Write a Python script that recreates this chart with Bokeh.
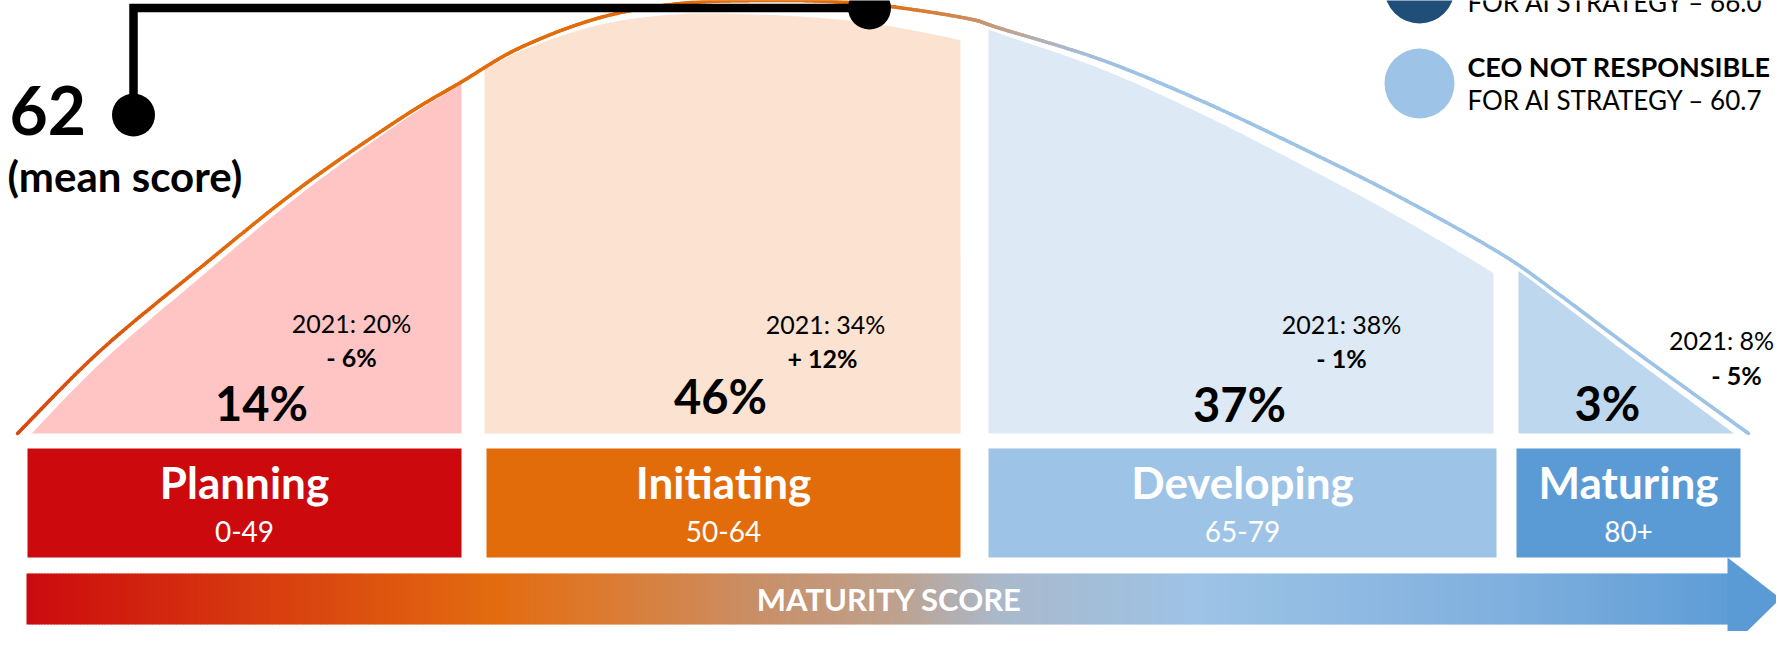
import numpy as np
from bokeh.plotting import figure
from bokeh.models import Range1d
from bokeh.core.properties import value
from bokeh.embed import file_html
from bokeh.resources import INLINE

# ---------------- DATA ----------------
categories = ["Planning", "Initiating", "Developing", "Maturing"]
score_ranges = ["0-49", "50-64", "65-79", "80+"]
share_2023 = [14, 46, 37, 3]
share_2021 = [20, 34, 38, 8]
mean_score = 62
legend_labels = ["CEO RESPONSIBLE", "CEO NOT RESPONSIBLE"]
legend_scores = [66.0, 60.7]
axis_title = "MATURITY SCORE"
# distribution curve: position along the score bar, height above the base line
curve_x = [17, 100, 200, 300, 400, 460, 520, 600, 680, 760, 830, 890, 967, 1000,
           1100, 1200, 1300, 1400, 1500, 1560, 1620, 1683, 1748]
curve_h = [0, 83, 166, 246, 315, 351, 386, 416, 430, 433, 432, 427, 415, 405,
           374, 333, 286, 236, 180, 138, 93, 47, 0]

# ---------------- LAYOUT / STYLE ----------------
BASE = 433
band_x0 = [17, 484, 988, 1518]
band_x1 = [461, 960, 1493, 1760]
band_gap = [(15, 2), (2, 23), (5, 24), (6, 11)]
fill_colors = ["#FFC5C5", "#FBE2D1", "#DDE9F5", "#BDD7EE"]
box_x0 = [27, 486, 988, 1516]
box_x1 = [461, 960, 1496, 1740]
box_top, box_bot = 448, 557
box_colors = ["#CC0A0E", "#E36C0A", "#9DC3E6", "#5B9BD5"]
pct_cx = [261, 720, 1239, 1607]
pct_base = [422, 415, 423, 422]
hist_cx = [351, 825, 1341, 1721]
hist_base = [333, 334, 334, 350]
chg_base = [367, 368, 368, 385]
chg_cx = [351, 825, 1341, 1736]

FONT = value("Lato")
OFF = 0.42  # baseline correction (fraction of font size)


def by(base, fs):
    return base - OFF * fs


p = figure(width=1776, height=631, x_range=Range1d(0, 1776), y_range=Range1d(631, 0),
           output_backend="svg", toolbar_location=None, min_border=0)
p.axis.visible = False
p.grid.visible = False
p.outline_line_color = None
p.background_fill_color = "white"


def hex2rgb(h):
    h = h.lstrip("#")
    return [int(h[i:i + 2], 16) for i in (0, 2, 4)]


def gradient(stops, xs):
    pos = [s[0] for s in stops]
    rgb = np.array([hex2rgb(s[1]) for s in stops], dtype=float)
    out = []
    for x in xs:
        c = [int(round(np.interp(x, pos, rgb[:, k]))) for k in range(3)]
        out.append("#%02x%02x%02x" % tuple(c))
    return out


def catmull(px, py, n=30):
    P = np.column_stack([px, py]).astype(float)
    P = np.vstack([P[0], P, P[-1]])
    xs, ys = [], []
    for i in range(1, len(P) - 2):
        p0, p1, p2, p3 = P[i - 1], P[i], P[i + 1], P[i + 2]
        t = np.linspace(0, 1, n, endpoint=False)[:, None]
        pt = 0.5 * ((2 * p1) + (-p0 + p2) * t + (2 * p0 - 5 * p1 + 4 * p2 - p3) * t ** 2
                    + (-p0 + 3 * p1 - 3 * p2 + p3) * t ** 3)
        xs.extend(pt[:, 0]); ys.extend(pt[:, 1])
    xs.append(P[-1, 0]); ys.append(P[-1, 1])
    return np.array(xs), np.array(ys)


curve_y = [BASE - h for h in curve_h]
sx, sy = catmull(curve_x, curve_y)

# ---------- band fills under the curve ----------
for i in range(4):
    xs = np.linspace(band_x0[i], band_x1[i], 150)
    g = np.linspace(band_gap[i][0], band_gap[i][1], 150)
    ys = np.minimum(np.interp(xs, sx, sy) + g, BASE)
    px = list(xs) + [band_x1[i], band_x0[i]]
    py = list(ys) + [BASE, BASE]
    p.patch(px, py, fill_color=fill_colors[i], line_color=None)

# ---------- curve line with gradient ----------
curve_stops = [(17, "#D9480F"), (250, "#E36C0A"), (870, "#E36C0A"), (960, "#D08850"),
               (1020, "#B9A9A0"), (1080, "#A6BCD8"), (1140, "#9DC3E6"), (1760, "#9DC3E6")]
mid = (sx[:-1] + sx[1:]) / 2
p.segment(x0=sx[:-1], y0=sy[:-1], x1=sx[1:], y1=sy[1:], line_color=gradient(curve_stops, mid),
          line_width=3.5, line_cap="round")

# ---------- category boxes ----------
p.quad(left=box_x0, right=box_x1, top=[box_top] * 4, bottom=[box_bot] * 4,
       fill_color=box_colors, line_color=None)
box_cx = [(a + b) / 2 for a, b in zip(box_x0, box_x1)]
p.text(x=box_cx, y=[by(500, 44)] * 4, text=categories, text_font=FONT, text_font_style="bold",
       text_font_size="44px", text_color="white", text_align="center", text_baseline="alphabetic")
p.text(x=box_cx, y=[by(543, 28)] * 4, text=score_ranges, text_font=FONT,
       text_font_size="28px", text_color="white", text_align="center", text_baseline="alphabetic")

# ---------- maturity score arrow ----------
bar_l, bar_r, bar_t, bar_b = 26, 1728, 573, 624
arrow_stops = [(26, "#CC0A0E"), (280, "#D8400F"), (495, "#E36C10"), (600, "#DC7A30"),
               (760, "#C98F68"), (900, "#BDA290"), (1000, "#A9B9CC"), (1200, "#9DC3E6"),
               (1500, "#80B0DE"), (1728, "#5E9DD6")]
edges = np.arange(bar_l, bar_r, 3.0)
rights = np.minimum(edges + 4.0, bar_r)
p.quad(left=edges, right=rights, top=[bar_t] * len(edges), bottom=[bar_b] * len(edges),
       fill_color=gradient(arrow_stops, edges + 1.5), line_color=None)
p.patch([bar_r - 1, 1780, bar_r - 1], [557, 598, 650], fill_color="#5B9BD5", line_color=None)
p.text(x=[889], y=[by(612, 31)], text=[axis_title], text_font=FONT, text_font_style="bold",
       text_font_size="31px", text_color="white", text_align="center", text_baseline="alphabetic")

# teal panel below (mostly outside the view)
p.quad(left=[100], right=[1629], top=[639], bottom=[700], fill_color="#67C8D5", line_color=None)

# ---------- percentages ----------
p.text(x=pct_cx, y=[by(b, 47) for b in pct_base], text=["%d%%" % v for v in share_2023],
       text_font=FONT, text_font_style="bold", text_font_size="47px", text_color="black",
       text_align="center", text_baseline="alphabetic")
p.text(x=hist_cx, y=[by(b, 25) for b in hist_base], text=["2021: %d%%" % v for v in share_2021],
       text_font=FONT, text_font_size="25px", text_color="black", text_align="center",
       text_baseline="alphabetic")
chg = []
for a, b in zip(share_2023, share_2021):
    d = a - b
    chg.append(("+  %d%%" % d) if d > 0 else ("- %d%%" % abs(d)))
p.text(x=chg_cx, y=[by(b, 25) for b in chg_base], text=chg, text_font=FONT, text_font_style="bold",
       text_font_size="25px", text_color="black", text_align="center", text_baseline="alphabetic")

# ---------- mean score marker ----------
p.line([133, 133, 869], [100, 7.5, 7.5], line_color="black", line_width=8.5, line_join="miter")
p.scatter(x=[133, 869], y=[114.5, 7.5], size=43, marker="circle", fill_color="black", line_color=None)
p.text(x=[9], y=[by(138, 66)], text=[str(mean_score)], text_font=FONT, text_font_style="bold",
       text_font_size="66px", text_color="black", text_align="left", text_baseline="alphabetic")
p.text(x=[7], y=[by(193, 42)], text=["(mean score)"], text_font=FONT, text_font_style="bold",
       text_font_size="42px", text_color="black", text_align="left", text_baseline="alphabetic")

# ---------- legend ----------
p.scatter(x=[1419, 1419], y=[-12, 83], size=70, marker="circle",
          fill_color=["#1F4E79", "#9DC3E6"], line_color=None)
p.text(x=[1467], y=[by(12, 26)], text=["FOR AI STRATEGY \u2013 %.1f" % legend_scores[0]], text_font=FONT,
       text_font_size="26px", text_color="black", text_align="left", text_baseline="alphabetic")
p.text(x=[1467], y=[by(77, 27)], text=[legend_labels[1]], text_font=FONT, text_font_style="bold",
       text_font_size="27px", text_color="black", text_align="left", text_baseline="alphabetic")
p.text(x=[1467], y=[by(110, 26)], text=["FOR AI STRATEGY \u2013 %.1f" % legend_scores[1]], text_font=FONT,
       text_font_size="26px", text_color="black", text_align="left", text_baseline="alphabetic")

open("out.html", "w").write(file_html(p, INLINE))
